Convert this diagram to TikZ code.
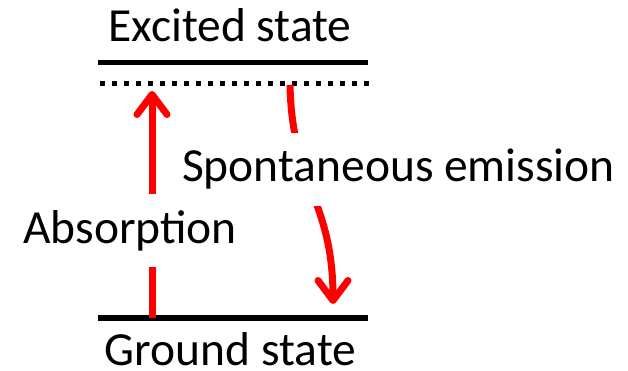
\documentclass[tikz,border=0pt]{standalone}
\usepackage{fontspec}
\setmainfont{Carlito}
\usetikzlibrary{arrows.meta}
\begin{document}
\begin{tikzpicture}[x=1pt,y=-1pt,
  level/.style={line width=5.5pt},
  virtual/.style={line width=5pt,dash pattern=on 5pt off 7pt},
  photon/.style={red,line width=7pt,-{Straight Barb[length=20pt,width=30pt,round]}},
  lbl/.style={font=\fontsize{47.5}{52}\selectfont,inner sep=0pt,anchor=base},
  cover/.style={lbl,fill=white,inner xsep=4pt,inner ysep=16pt}]
\useasboundingbox (0,0) rectangle (628,371);
% level end points
\coordinate (e1) at (98,62.5);
\coordinate (e2) at (368,62.5);
\coordinate (v1) at (100,84);
\coordinate (v2) at (372,84);
\coordinate (g1) at (98,318);
\coordinate (g2) at (368,318);
\draw[level] (e1) -- (e2);
\draw[virtual] (v1) -- (v2);
\draw[level] (g1) -- (g2);
% arrows
\coordinate (aS) at (152,318);
\coordinate (aE) at (152,91);
\coordinate (sS) at (290,85);
\coordinate (sE) at (333,304);
\draw[photon] (aS) -- (aE);
\draw[photon] (sS) .. controls (292,185) and (333,200) .. (sE);
% labels
\node[lbl] (exc) at (230,42) {Excited state};
\node[lbl,text depth=0pt] (gnd) at (230.5,365) {Ground state};
\node[cover] (abs) at (130,243) {Absorption};
\node[cover] (spe) at (398.5,182) {Spontaneous emission};
\end{tikzpicture}
\end{document}
